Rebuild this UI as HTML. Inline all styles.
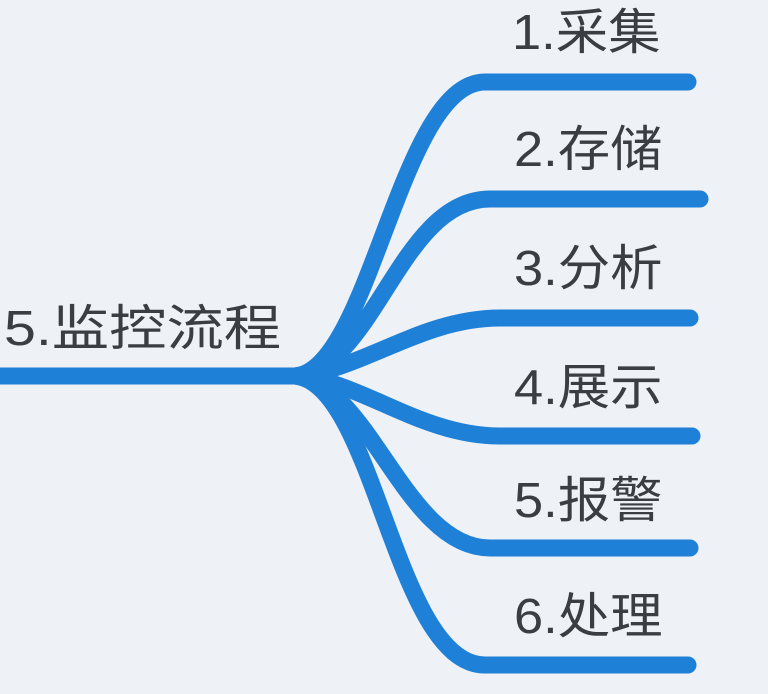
<!DOCTYPE html>
<html><head><meta charset="utf-8"><style>
html,body{margin:0;padding:0;background:#eef1f5;}
body{width:768px;height:694px;overflow:hidden;position:relative;font-family:"Liberation Sans","Noto Sans CJK SC",sans-serif;}
.t{position:absolute;font-size:49px;color:#3a3d42;line-height:1;white-space:nowrap;transform-origin:0 0;transform:scaleX(1.07);}
</style></head><body>
<svg width="768" height="694" style="position:absolute;left:0;top:0">
<g fill="none" stroke="#1f80d8" stroke-width="17" stroke-linecap="round">
<path d="M-10,376 L300,376"/>
<path d="M295,376 C370,370 400,82 485,82 L688,82"/>
<path d="M295,376 C375,368 400,199 490,199 L700,199"/>
<path d="M295,376 C360,372 420,318 500,318 L690,318"/>
<path d="M295,376 C360,380 420,436 500,436 L692,436"/>
<path d="M295,376 C370,384 405,548 490,548 L690,548"/>
<path d="M295,376 C375,384 395,665 485,665 L688,665"/>
</g>
</svg>
<div class="t" style="left:512px;top:9px">1.采集</div>
<div class="t" style="left:514px;top:126px">2.存储</div>
<div class="t" style="left:514px;top:245px">3.分析</div>
<div class="t" style="left:514px;top:364px">4.展示</div>
<div class="t" style="left:514px;top:477px">5.报警</div>
<div class="t" style="left:514px;top:593px">6.处理</div>
<div class="t" style="left:4px;top:305px;transform:scaleX(1.17)">5.监控流程</div>
</body></html>
